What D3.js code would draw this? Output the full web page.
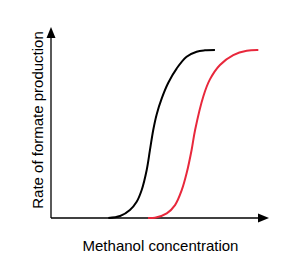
<!DOCTYPE html>
<html><head><meta charset="utf-8">
<script src="https://cdn.jsdelivr.net/npm/d3@7"></script>
<style>body{margin:0;background:#fff;}svg{display:block;}</style>
</head><body>
<svg id="c" width="300" height="280"></svg>
<script>
// Data (arbitrary units)
const blackX = [2.63, 3.17, 3.62, 3.93, 4.16, 4.39, 4.54, 4.69, 4.85, 5.08, 5.38, 5.77, 6.22, 6.68, 7.06, 7.52];
const blackY = [0.0, 0.012, 0.048, 0.097, 0.167, 0.286, 0.405, 0.524, 0.618, 0.712, 0.805, 0.891, 0.960, 0.990, 0.998, 1.0];
const redX = [4.45, 4.77, 5.31, 5.69, 6.00, 6.22, 6.45, 6.61, 6.99, 7.29, 7.75, 8.36, 8.98, 9.51];
const redY = [0.0, 0.002, 0.028, 0.077, 0.167, 0.266, 0.405, 0.524, 0.725, 0.825, 0.911, 0.970, 0.996, 1.0];
const xLabel = "Methanol concentration";
const yLabel = "Rate of formate production";

const svg = d3.select("#c");
const x0 = 51, x1 = 269, yBase = 218, yTop = 27;
const x = d3.scaleLinear().domain([0, 10]).range([x0, x1]);
const y = d3.scaleLinear().domain([0, 1]).range([yBase, 50]);

// axes
svg.append("line").attr("x1", x0).attr("y1", yBase).attr("x2", x1 - 8).attr("y2", yBase)
  .attr("stroke", "#000").attr("stroke-width", 1.3);
svg.append("line").attr("x1", x0).attr("y1", yBase).attr("x2", x0).attr("y2", yTop + 8)
  .attr("stroke", "#000").attr("stroke-width", 1.3);
svg.append("path").attr("d", `M${x1},${yBase} L${x1-11},${yBase-4.5} L${x1-11},${yBase+4.5} Z`).attr("fill", "#000");
svg.append("path").attr("d", `M${x0},${yTop} L${x0-4.5},${yTop+11} L${x0+4.5},${yTop+11} Z`).attr("fill", "#000");

const lineGen = d3.line().x(d => x(d[0])).y(d => y(d[1])).curve(d3.curveCatmullRom.alpha(0.5));

svg.append("path").datum(d3.zip(blackX, blackY)).attr("d", lineGen)
  .attr("fill", "none").attr("stroke", "#000").attr("stroke-width", 2);
svg.append("path").datum(d3.zip(redX, redY)).attr("d", lineGen)
  .attr("fill", "none").attr("stroke", "#e8283c").attr("stroke-width", 2);

svg.append("text").attr("x", 160.5).attr("y", 250.5).attr("text-anchor", "middle")
  .attr("font-family", "Liberation Sans, Arial, sans-serif").attr("font-size", 15).text(xLabel);
svg.append("text").attr("transform", "translate(43.3,120) rotate(-90)").attr("text-anchor", "middle")
  .attr("font-family", "Liberation Sans, Arial, sans-serif").attr("font-size", 15).text(yLabel);
</script>
</body></html>
